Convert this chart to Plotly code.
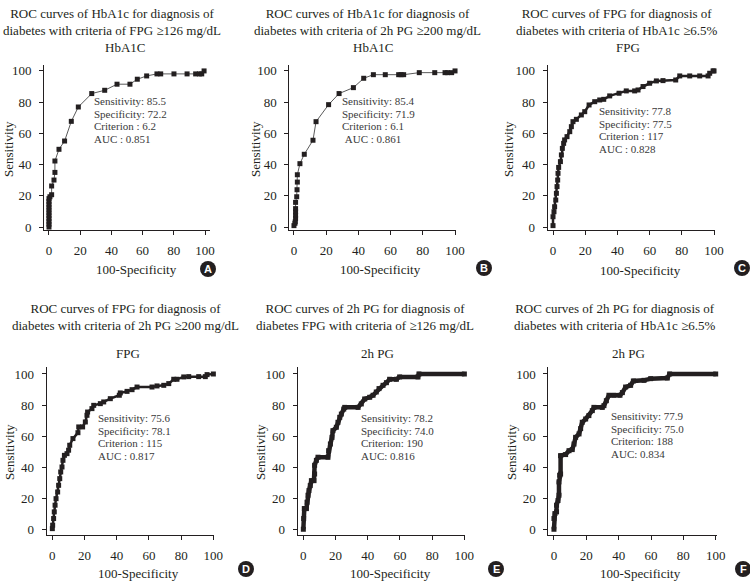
import plotly.graph_objects as go

# ---------------- data ----------------
a_x = [0, 0, 0, 0, 0, 0, 0, 0, 0, 0, 0, 0.6, 1.7, 1.7, 3.2, 3.8, 3.8, 6.4, 10, 14.3, 18.8, 27.4,
       35.7, 43.6, 51.9, 56.6, 62.6, 69.2, 71.6, 80.1, 88.5, 94, 96.4, 97.9, 99.4]
a_y = [0, 1.8, 3.6, 5.5, 7.3, 9.1, 10.9, 12.7, 14.5, 16.4, 18.2, 19.4, 20.7, 26.3, 30.1, 35, 42.3,
       49.8, 55.1, 67.7, 76.9, 85.5, 87.6, 91.5, 91.5, 94.7, 96.8, 98.1, 98.1, 98.1, 98.1, 98.1,
       98.1, 98.1, 100]

b_x = [0, 0.6, 0.8, 1, 1, 1, 1, 1, 1.7, 1.9, 2.1, 2.1, 3.7, 6.4, 11.8, 13.7, 21.5, 28, 36.9,
       43.3, 49.3, 56.7, 65, 66.5, 68.1, 77.8, 87.4, 93.8, 95.4, 97.9, 100]
b_y = [0.9, 2.4, 3.4, 5.5, 7.6, 9.7, 11.8, 15.8, 19.4, 23.9, 28.8, 33.5, 40.6, 46.6, 55.6, 67.5,
       78.4, 85.5, 89.3, 95.3, 97.6, 97.6, 97.6, 97.6, 97.6, 98.9, 98.9, 98.9, 98.9, 98.9, 100]

c_x = [0, 0, 0.6, 1, 1.7, 2.1, 2.5, 2.9, 3.1, 3.5, 4.6, 5.2, 5.8, 6.6, 7.2, 8.7, 10.4, 11.4,
       12.4, 14.5, 17.6, 19.7, 22.4, 25.9, 29, 31.5, 35.2, 41, 45.5, 50.7, 52.8, 55.9, 60, 64.2,
       68.3, 76.2, 78.7, 84.9, 91.1, 96.3, 97.3, 99.4, 100]
c_y = [0.9, 6.6, 9.8, 13, 17.3, 21.6, 25.9, 30.1, 34.4, 38.2, 41.9, 46.2, 50.4, 53.6, 55.8,
       57.9, 61.1, 64.3, 67.5, 69, 71.8, 73.9, 78.2, 80.3, 81.4, 81.8, 84, 85.7, 87.2, 87.2,
       87.8, 90, 92.1, 93.6, 93.8, 94.2, 96.8, 96.8, 96.8, 96.8, 98.5, 100, 100]

d_x = [0, 0.2, 0.8, 1.2, 1.7, 2.3, 3.3, 3.9, 4.6, 5.2, 6, 6.6, 7.5, 9.1, 10.1, 10.8, 12.8, 15.9,
       16.4, 18.8, 20.5, 21.5, 21.9, 24.6, 25.7, 29.8, 31.9, 36, 41.6, 42.2, 46.4, 49.5, 52.6,
       61.9, 65, 69.2, 72.3, 75.4, 77.4, 81.6, 84.7, 90.9, 95, 96.1, 100]
d_y = [0.4, 2.6, 6.9, 11.2, 15.5, 19.7, 24, 28.3, 32.6, 36.9, 40.1, 44.4, 47.6, 48.7, 50.9,
       54.1, 58.4, 62.2, 65.9, 65.9, 69.1, 73.4, 75.5, 77.7, 79.8, 80.9, 82, 84.1, 86.3, 87.8,
       88.8, 89.9, 91.6, 91.6, 92.3, 92.7, 93.8, 96.6, 96.6, 98.1, 98.3, 98.3, 98.3, 99.6, 100]

e_x = [0, 0.2, 0.6, 1.9, 2.3, 2.9, 3.5, 4.3, 5, 6.6, 7, 7, 8.1, 9.1, 15.3, 15.7, 16.8, 17.8,
       18.4, 20.5, 21.5, 22.6, 23.6, 25.1, 25.7, 34, 36, 38.1, 41.2, 43.3, 45.3, 47, 49.5, 51.6,
       53.6, 57.8, 59.8, 71.2, 71.8, 100]
e_y = [0, 6.9, 13.3, 13.3, 17.4, 21.9, 24.9, 28.1, 31.3, 31.3, 35.6, 41.2, 44.4, 46.4, 46.4,
       50.6, 54.9, 59.2, 63.5, 65.7, 68.9, 72.1, 74.2, 77.4, 78.5, 78.5, 80.7, 83.9, 85, 86.3,
       88.4, 90.6, 92.7, 94.4, 96.6, 96.6, 98.1, 98.1, 100, 100]

f_x = [0, 0, 0.6, 1.6, 1.6, 2.5, 3.1, 3.1, 3.5, 4.1, 4.1, 7.2, 9.3, 11.3, 12.4, 13.4, 15.5, 16.5,
       17.5, 19.6, 21.6, 23.7, 24.7, 29.9, 30.9, 32.4, 34, 37.1, 40.8, 42.3, 44.3, 47.4, 49.1,
       55.7, 59.8, 70.1, 71.5, 100]
f_y = [0, 6.9, 10.1, 11.2, 15.5, 18.5, 21.9, 30.5, 34.8, 35.6, 47.4, 48.1, 50.6, 51.3, 54.9,
       59.2, 61.4, 64.8, 68.9, 71, 73.2, 76.4, 78.5, 78.5, 79.6, 82.8, 86.3, 86.3, 86.3, 88,
       91.6, 92.7, 95.5, 95.9, 97, 97.4, 100, 100]

tick_vals = [0, 20, 40, 60, 80, 100]
tick_text = ["0", "20", "40", "60", "80", "100"]

titles = [
    "ROC curves of HbA1c for diagnosis of<br>diabetes with criteria of FPG \u2265126 mg/dL",
    "ROC curves of HbA1c for diagnosis of<br>diabetes with criteria of 2h PG \u2265200 mg/dL",
    "ROC curves of FPG for diagnosis of<br>diabetes with criteria of HbA1c \u22656.5%",
    "ROC curves of FPG for diagnosis of<br>diabetes with criteria of 2h PG \u2265200 mg/dL",
    "ROC curves of 2h PG for diagnosis of<br>diabetes FPG with criteria of \u2265126 mg/dL",
    "ROC curves of 2h PG for diagnosis of<br>diabetes with criteria of HbA1c \u22656.5%",
]
subtitles = ["HbA1C", "HbA1C", "FPG", "FPG", "2h PG", "2h PG"]
stats = [
    ["Sensitivity: 85.5", "Specificity: 72.2", "Criterion : 6.2", "AUC : 0.851"],
    ["Sensitivity: 85.4", "Specificity: 71.9", "Criterion : 6.1", " AUC : 0.861"],
    ["Sensitivity: 77.8", "Specificity: 77.5", "Criterion : 117", "AUC : 0.828"],
    ["Sensitivity: 75.6", "Specificity: 78.1", "Criterion : 115", "AUC : 0.817"],
    ["Sensitivity: 78.2", "Specificity: 74.0", "Criterion: 190", "AUC: 0.816"],
    ["Sensitivity: 77.9", "Specificity: 75.0", "Criterion: 188", "AUC: 0.834"],
]
letters = ["A", "B", "C", "D", "E", "F"]
series = [(a_x, a_y), (b_x, b_y), (c_x, c_y), (d_x, d_y), (e_x, e_y), (f_x, f_y)]

# ---------------- layout (pixel geometry) ----------------
W, H = 750, 581
FONT = "Liberation Serif"
INK = "#231f20"

geo = [
    dict(px=(44, 210), py=(65, 230), xr=(-3.2, 103.2), yr=(-1.9, 103.8),
         title=(112, 22), sub=(125, 48), stat=(92, 101), xlab=(136, 269), ylab=(8, 149), let=(208, 269)),
    dict(px=(289.3, 456), py=(65, 230), xr=(-2.9, 100.6), yr=(-1.9, 103.8),
         title=(367, 22), sub=(373, 48), stat=(340, 101), xlab=(380, 269), ylab=(255, 149), let=(484, 268)),
    dict(px=(547.7, 715), py=(65, 230), xr=(-3.3, 100.6), yr=(-1.9, 103.8),
         title=(617, 22), sub=(628, 48), stat=(597, 111), xlab=(640, 270), ylab=(508, 149), let=(742, 268)),
    dict(px=(46.7, 214), py=(367, 535), xr=(-3.5, 100.4), yr=(-3.7, 104.5),
         title=(125, 317), sub=(128, 353), stat=(96, 418), xlab=(138, 573), ylab=(9, 452), let=(246, 569)),
    dict(px=(297.7, 465), py=(367, 535), xr=(-3.5, 100.4), yr=(-3.7, 104.5),
         title=(365, 317), sub=(377, 353), stat=(359, 418), xlab=(390, 573), ylab=(260, 452), let=(496, 569)),
    dict(px=(548.3, 716.5), py=(367, 535), xr=(-3.5, 100.5), yr=(-3.7, 104.5),
         title=(615, 317), sub=(628, 353), stat=(609, 416), xlab=(640, 573), ylab=(511, 452), let=(743, 569)),
]
STAT_DY = 12.7

styles = [
    dict(lw=1, lc="#5a5a5a", ms=5),
    dict(lw=1, lc="#5a5a5a", ms=5),
    dict(lw=2.5, lc=INK, ms=5),
    dict(lw=2.5, lc=INK, ms=5),
    dict(lw=4.5, lc=INK, ms=5),
    dict(lw=4.5, lc=INK, ms=5),
]


def fx(p):
    return p / W


def fy(p):
    return 1 - p / H


fig = go.Figure()
annotations = []
shapes = []


def ann(text, xy, size=13, color=INK, family=FONT, **kw):
    d = dict(text=text, x=fx(xy[0]), y=fy(xy[1]), xref="paper", yref="paper",
             xanchor="center", yanchor="middle", showarrow=False,
             font=dict(family=family, size=size, color=color))
    d.update(kw)
    return d


for i, ((xs, ys), g, st) in enumerate(zip(series, geo, styles)):
    n = "" if i == 0 else str(i + 1)
    fig.add_trace(go.Scatter(
        x=xs, y=ys, mode="lines+markers", xaxis="x" + n, yaxis="y" + n,
        line=dict(color=st["lc"], width=st["lw"]),
        marker=dict(symbol="square", size=st["ms"], color=INK),
        showlegend=False, hoverinfo="skip", cliponaxis=False,
    ))
    axis_common = dict(
        showline=True, linecolor=INK, linewidth=1, ticks="outside", ticklen=4,
        tickcolor=INK, tickwidth=1, showgrid=False, zeroline=False,
        tickvals=tick_vals, ticktext=tick_text, automargin=False,
        tickfont=dict(family=FONT, size=13, color=INK), fixedrange=True,
    )
    fig.update_layout(**{
        "xaxis" + n: dict(axis_common, domain=[fx(g["px"][0]), fx(g["px"][1])],
                          range=list(g["xr"]), anchor="y" + n, ticklabelstandoff=4),
        "yaxis" + n: dict(axis_common, domain=[fy(g["py"][1]), fy(g["py"][0])],
                          range=list(g["yr"]), anchor="x" + n, ticklabelstandoff=5),
    })
    annotations += [
        ann(titles[i], g["title"], align="center"),
        ann(subtitles[i], g["sub"]),
        ann("100-Specificity", g["xlab"]),
        ann("Sensitivity", g["ylab"], textangle=-90),
        ann("<b>" + letters[i] + "</b>", g["let"], size=11, color="white",
            family="Liberation Sans"),
    ]
    for k, line in enumerate(stats[i]):
        annotations.append(ann(line.replace(" ", "\u00a0") if line.startswith(" ") else line,
                               (g["stat"][0], g["stat"][1] + k * STAT_DY), size=11,
                               color="#3a3a3a", xanchor="left"))
    r = 8
    shapes.append(dict(type="circle", xref="paper", yref="paper",
                       x0=fx(g["let"][0] - r), x1=fx(g["let"][0] + r),
                       y0=fy(g["let"][1] + r), y1=fy(g["let"][1] - r),
                       fillcolor=INK, line=dict(width=0), layer="below"))

fig.update_layout(
    width=W, height=H, margin=dict(l=0, r=0, t=0, b=0, autoexpand=False),
    paper_bgcolor="white", plot_bgcolor="white",
    annotations=annotations, shapes=shapes,
)

fig.write_html("out.html", config={"displayModeBar": False},
               post_script="document.body.style.margin='0';document.body.style.padding='0';")
